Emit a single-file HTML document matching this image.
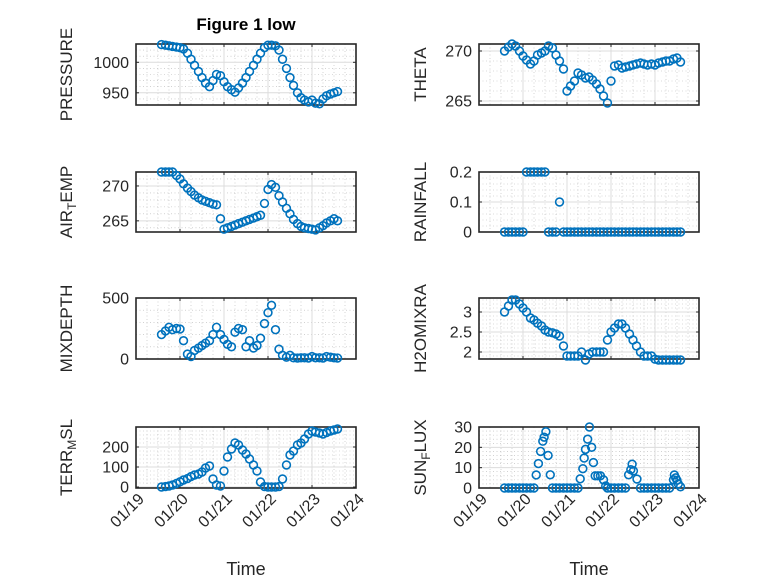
<!DOCTYPE html>
<html><head><meta charset="utf-8"><style>
html,body{margin:0;padding:0;background:#fff;}
svg{display:block;font-family:"Liberation Sans","DejaVu Sans",sans-serif;}
</style></head><body>
<svg id="fig" width="778" height="583" viewBox="0 0 778 583" xmlns="http://www.w3.org/2000/svg">
<rect width="778" height="583" fill="#fff"/>
<text x="246" y="30" text-anchor="middle" font-size="17" font-weight="bold" fill="#000">Figure 1 low</text>
</svg>
<script>
const T2 = [0.58,0.67,0.75,0.83,0.92,1.00,1.08,1.17,1.25,1.33,1.42,1.50,1.58,1.67,1.75,1.83,1.92,2.00,2.08,2.17,2.25,2.33,2.42,2.50,2.58,2.67,2.75,2.83,2.92,3.00,3.08,3.17,3.25,3.33,3.42,3.50,3.58,3.67,3.75,3.83,3.92,4.00,4.08,4.17,4.25,4.33,4.42,4.50,4.58];
const pressure = [1029,1028,1027,1026,1025,1024,1022,1015,1005,995,985,975,966,960,970,980,978,968,960,955,951,958,966,975,985,995,1005,1015,1024,1028,1028,1027,1020,1005,990,975,962,950,942,938,935,938,933,932,940,945,948,950,952];
const airTemp = [272,272,272,272,271.5,271,270.3,269.7,269.2,268.7,268.3,268,267.8,267.6,267.4,267.3,265.3,263.8,264,264.2,264.4,264.6,264.8,265,265.2,265.4,265.6,265.8,267.5,269.5,270.2,269.8,268.6,267.7,266.8,266,265.2,264.6,264.2,264,263.9,263.8,263.7,264,264.3,264.7,265,265.3,265];
const theta = [270,270.4,270.7,270.5,270,269.5,269.1,268.7,269,269.6,269.8,270,270.5,270.3,269.6,269,268.2,266,266.5,267,267.8,267.6,267.3,267.4,267.1,266.7,266.2,265.5,264.8,267,268.5,268.6,268.3,268.4,268.5,268.6,268.7,268.8,268.7,268.6,268.7,268.6,268.8,268.9,269,269,269.2,269.3,268.9];
const rainfall = [0,0,0,0,0,0,0.2,0.2,0.2,0.2,0.2,0.2,0,0,0,0.1,0,0,0,0,0,0,0,0,0,0,0,0,0,0,0,0,0,0,0,0,0,0,0,0,0,0,0,0,0,0,0,0,0];
const mixDepth = [200,230,260,240,250,245,150,40,20,70,90,110,130,150,200,260,200,160,120,100,220,250,240,100,150,90,110,170,290,380,440,240,80,30,15,30,10,8,10,10,8,20,10,10,8,20,15,10,8];
const h2oMix = [3.0,3.15,3.3,3.3,3.2,3.1,3.0,2.85,2.8,2.72,2.65,2.55,2.5,2.48,2.45,2.4,2.15,1.9,1.9,1.9,1.9,2.0,1.8,1.95,2.0,2.0,2.0,2.0,2.3,2.5,2.6,2.7,2.7,2.6,2.45,2.3,2.15,2.0,1.9,1.9,1.9,1.82,1.8,1.8,1.8,1.8,1.8,1.8,1.8];
const terrMsl = [0,2,5,10,18,26,35,42,52,60,65,75,95,105,40,10,5,80,150,190,220,210,185,165,140,110,80,25,2,0,0,0,2,40,110,160,180,210,220,240,265,280,275,270,265,272,280,285,290];
const sunT = [0.58,0.67,0.75,0.83,0.92,1.00,1.08,1.17,1.25,1.30,1.35,1.40,1.45,1.48,1.52,1.57,1.62,1.67,1.75,1.83,1.92,2.00,2.08,2.17,2.25,2.30,2.36,2.39,2.42,2.47,2.51,2.56,2.60,2.64,2.70,2.76,2.83,2.88,2.92,3.00,3.08,3.17,3.25,3.33,3.40,3.45,3.48,3.51,3.59,3.67,3.75,3.83,3.92,4.00,4.08,4.17,4.25,4.33,4.42,4.44,4.47,4.50,4.53,4.58];
const sunFlux = [0,0,0,0,0,0,0,0,0,6.4,12,18,23,25,27.7,16,6.5,0,0,0,0,0,0,0,0,4.5,9.5,14.7,19,24,30,20,12.5,6,6,6,4,1,0,0,0,0,0,0,6.5,9,11.7,8.4,4.4,0,0,0,0,0,0,0,0,0,4,6.4,5,3.8,2,0.6];
const xTickLabels = ["01/19","01/20","01/21","01/22","01/23","01/24"];

const NS = "http://www.w3.org/2000/svg";
const svg = document.getElementById('fig');
function mk(tag, attrs, parent){
  const e = document.createElementNS(NS, tag);
  for (const k in attrs) e.setAttribute(k, attrs[k]);
  (parent||svg).appendChild(e);
  return e;
}
const COLS = [{x0:136,x1:356,lx:66},{x0:479,x1:699,lx:420}];
const ROWS = [{y0:44,y1:105},{y0:172,y1:232},{y0:298,y1:359},{y0:427,y1:488}];
const panels = [
 {name:'pressure', c:0,r:0, t:T2, v:pressure, ymin:930, ymax:1030, ticks:[950,1000], tl:["950","1000"], minor:10, label:[["PRESSURE",""]]},
 {name:'theta', c:1,r:0, t:T2, v:theta, ymin:264.6, ymax:270.7, ticks:[265,270], tl:["265","270"], minor:1, label:[["THETA",""]]},
 {name:'air-temp', c:0,r:1, t:T2, v:airTemp, ymin:263.4, ymax:272, ticks:[265,270], tl:["265","270"], minor:1, label:[["AIR",""],["T","sub"],["EMP",""]]},
 {name:'rainfall', c:1,r:1, t:T2, v:rainfall, ymin:0, ymax:0.2, ticks:[0,0.1,0.2], tl:["0","0.1","0.2"], minor:0.02, label:[["RAINFALL",""]]},
 {name:'mixdepth', c:0,r:2, t:T2, v:mixDepth, ymin:0, ymax:500, ticks:[0,500], tl:["0","500"], minor:100, label:[["MIXDEPTH",""]]},
 {name:'h2omixra', c:1,r:2, t:T2, v:h2oMix, ymin:1.825, ymax:3.35, ticks:[2,2.5,3], tl:["2","2.5","3"], minor:0.1, label:[["H2OMIXRA",""]]},
 {name:'terr-msl', c:0,r:3, t:T2, v:terrMsl, ymin:-5, ymax:300, ticks:[0,100,200], tl:["0","100","200"], minor:20, label:[["TERR",""],["M","sub"],["SL",""]]},
 {name:'sun-flux', c:1,r:3, t:sunT, v:sunFlux, ymin:0, ymax:30, ticks:[0,10,20,30], tl:["0","10","20","30"], minor:2, label:[["SUN",""],["F","sub"],["LUX",""]]},
];
panels.forEach(p=>{
  const C = COLS[p.c], R = ROWS[p.r];
  const X = d => C.x0 + (d)/5*(C.x1-C.x0);
  const Y = v => R.y1 - (v-p.ymin)/(p.ymax-p.ymin)*(R.y1-R.y0);
  const g = mk('g',{});
  
  
  for (let d=0.25; d<5; d+=0.25){ if (Math.abs(d-Math.round(d))<1e-6) continue;
    mk('line',{x1:X(d),x2:X(d),y1:R.y0,y2:R.y1,stroke:'#b8b8b8','stroke-width':0.6,'stroke-dasharray':'1,2.5'},g);}
  const start = Math.ceil(p.ymin/p.minor)*p.minor;
  for (let v=start; v<=p.ymax+1e-9; v+=p.minor){
    if (p.ticks.some(t=>Math.abs(t-v)<1e-6)) continue;
    mk('line',{x1:C.x0,x2:C.x1,y1:Y(v),y2:Y(v),stroke:'#b8b8b8','stroke-width':0.6,'stroke-dasharray':'1,2.5'},g);}
  for (let d=1; d<5; d++) mk('line',{x1:X(d),x2:X(d),y1:R.y0,y2:R.y1,stroke:'#dcdcdc','stroke-width':1},g);
  p.ticks.forEach(t=>mk('line',{x1:C.x0,x2:C.x1,y1:Y(t),y2:Y(t),stroke:'#dcdcdc','stroke-width':1},g));
  const s = mk('g',{});
  
  
  p.t.forEach((t,i)=>{
    const c = mk('circle',{cx:X(t),cy:Y(p.v[i]),r:3.9,fill:'none',stroke:'#0072BD','stroke-width':1.6},s);
    
    
  });
  mk('rect',{x:C.x0,y:R.y0,width:C.x1-C.x0,height:R.y1-R.y0,fill:'none',stroke:'#262626','stroke-width':1.6},g);
  for (let d=0; d<=5; d++){
    mk('line',{x1:X(d),x2:X(d),y1:R.y1,y2:R.y1-3,stroke:'#262626','stroke-width':1},g);
    mk('line',{x1:X(d),x2:X(d),y1:R.y0,y2:R.y0+3,stroke:'#262626','stroke-width':1},g);
  }
  p.ticks.forEach((t,i)=>{
    mk('line',{x1:C.x0,x2:C.x0+3,y1:Y(t),y2:Y(t),stroke:'#262626','stroke-width':1},g);
    mk('line',{x1:C.x1,x2:C.x1-3,y1:Y(t),y2:Y(t),stroke:'#262626','stroke-width':1},g);
    const tx = mk('text',{x:C.x0-7,y:Y(t)+5.5,'text-anchor':'end','font-size':16,fill:'#262626'},g);
    tx.textContent = p.tl[i];
    
    
  });
  const cy = (R.y0+R.y1)/2;
  const yl = mk('text',{x:0,y:0,'text-anchor':'middle','font-size':17,fill:'#262626',transform:`translate(${C.lx+6},${cy}) rotate(-90)`},g);
  
  
  p.label.forEach(([txt,kind])=>{
    const ts = mk('tspan',{},yl);
    if (kind==='sub'){ ts.setAttribute('font-size','12'); ts.setAttribute('dy','4'); }
    else if (yl.childNodes.length>1){ ts.setAttribute('dy','-4'); }
    ts.textContent = txt;
  });
  if (p.r===3){
    xTickLabels.forEach((lab,d)=>{
      const tx = mk('text',{x:0,y:0,'text-anchor':'end','font-size':16,fill:'#262626',transform:`translate(${X(d)+9},${R.y1+12}) rotate(-45)`},g);
      tx.textContent = lab;
      
      
    });
    const xl = mk('text',{x:(C.x0+C.x1)/2,y:575,'text-anchor':'middle','font-size':18,fill:'#262626'},g);
    xl.textContent = 'Time';
    
    
  }
});
</script>
</body></html>
